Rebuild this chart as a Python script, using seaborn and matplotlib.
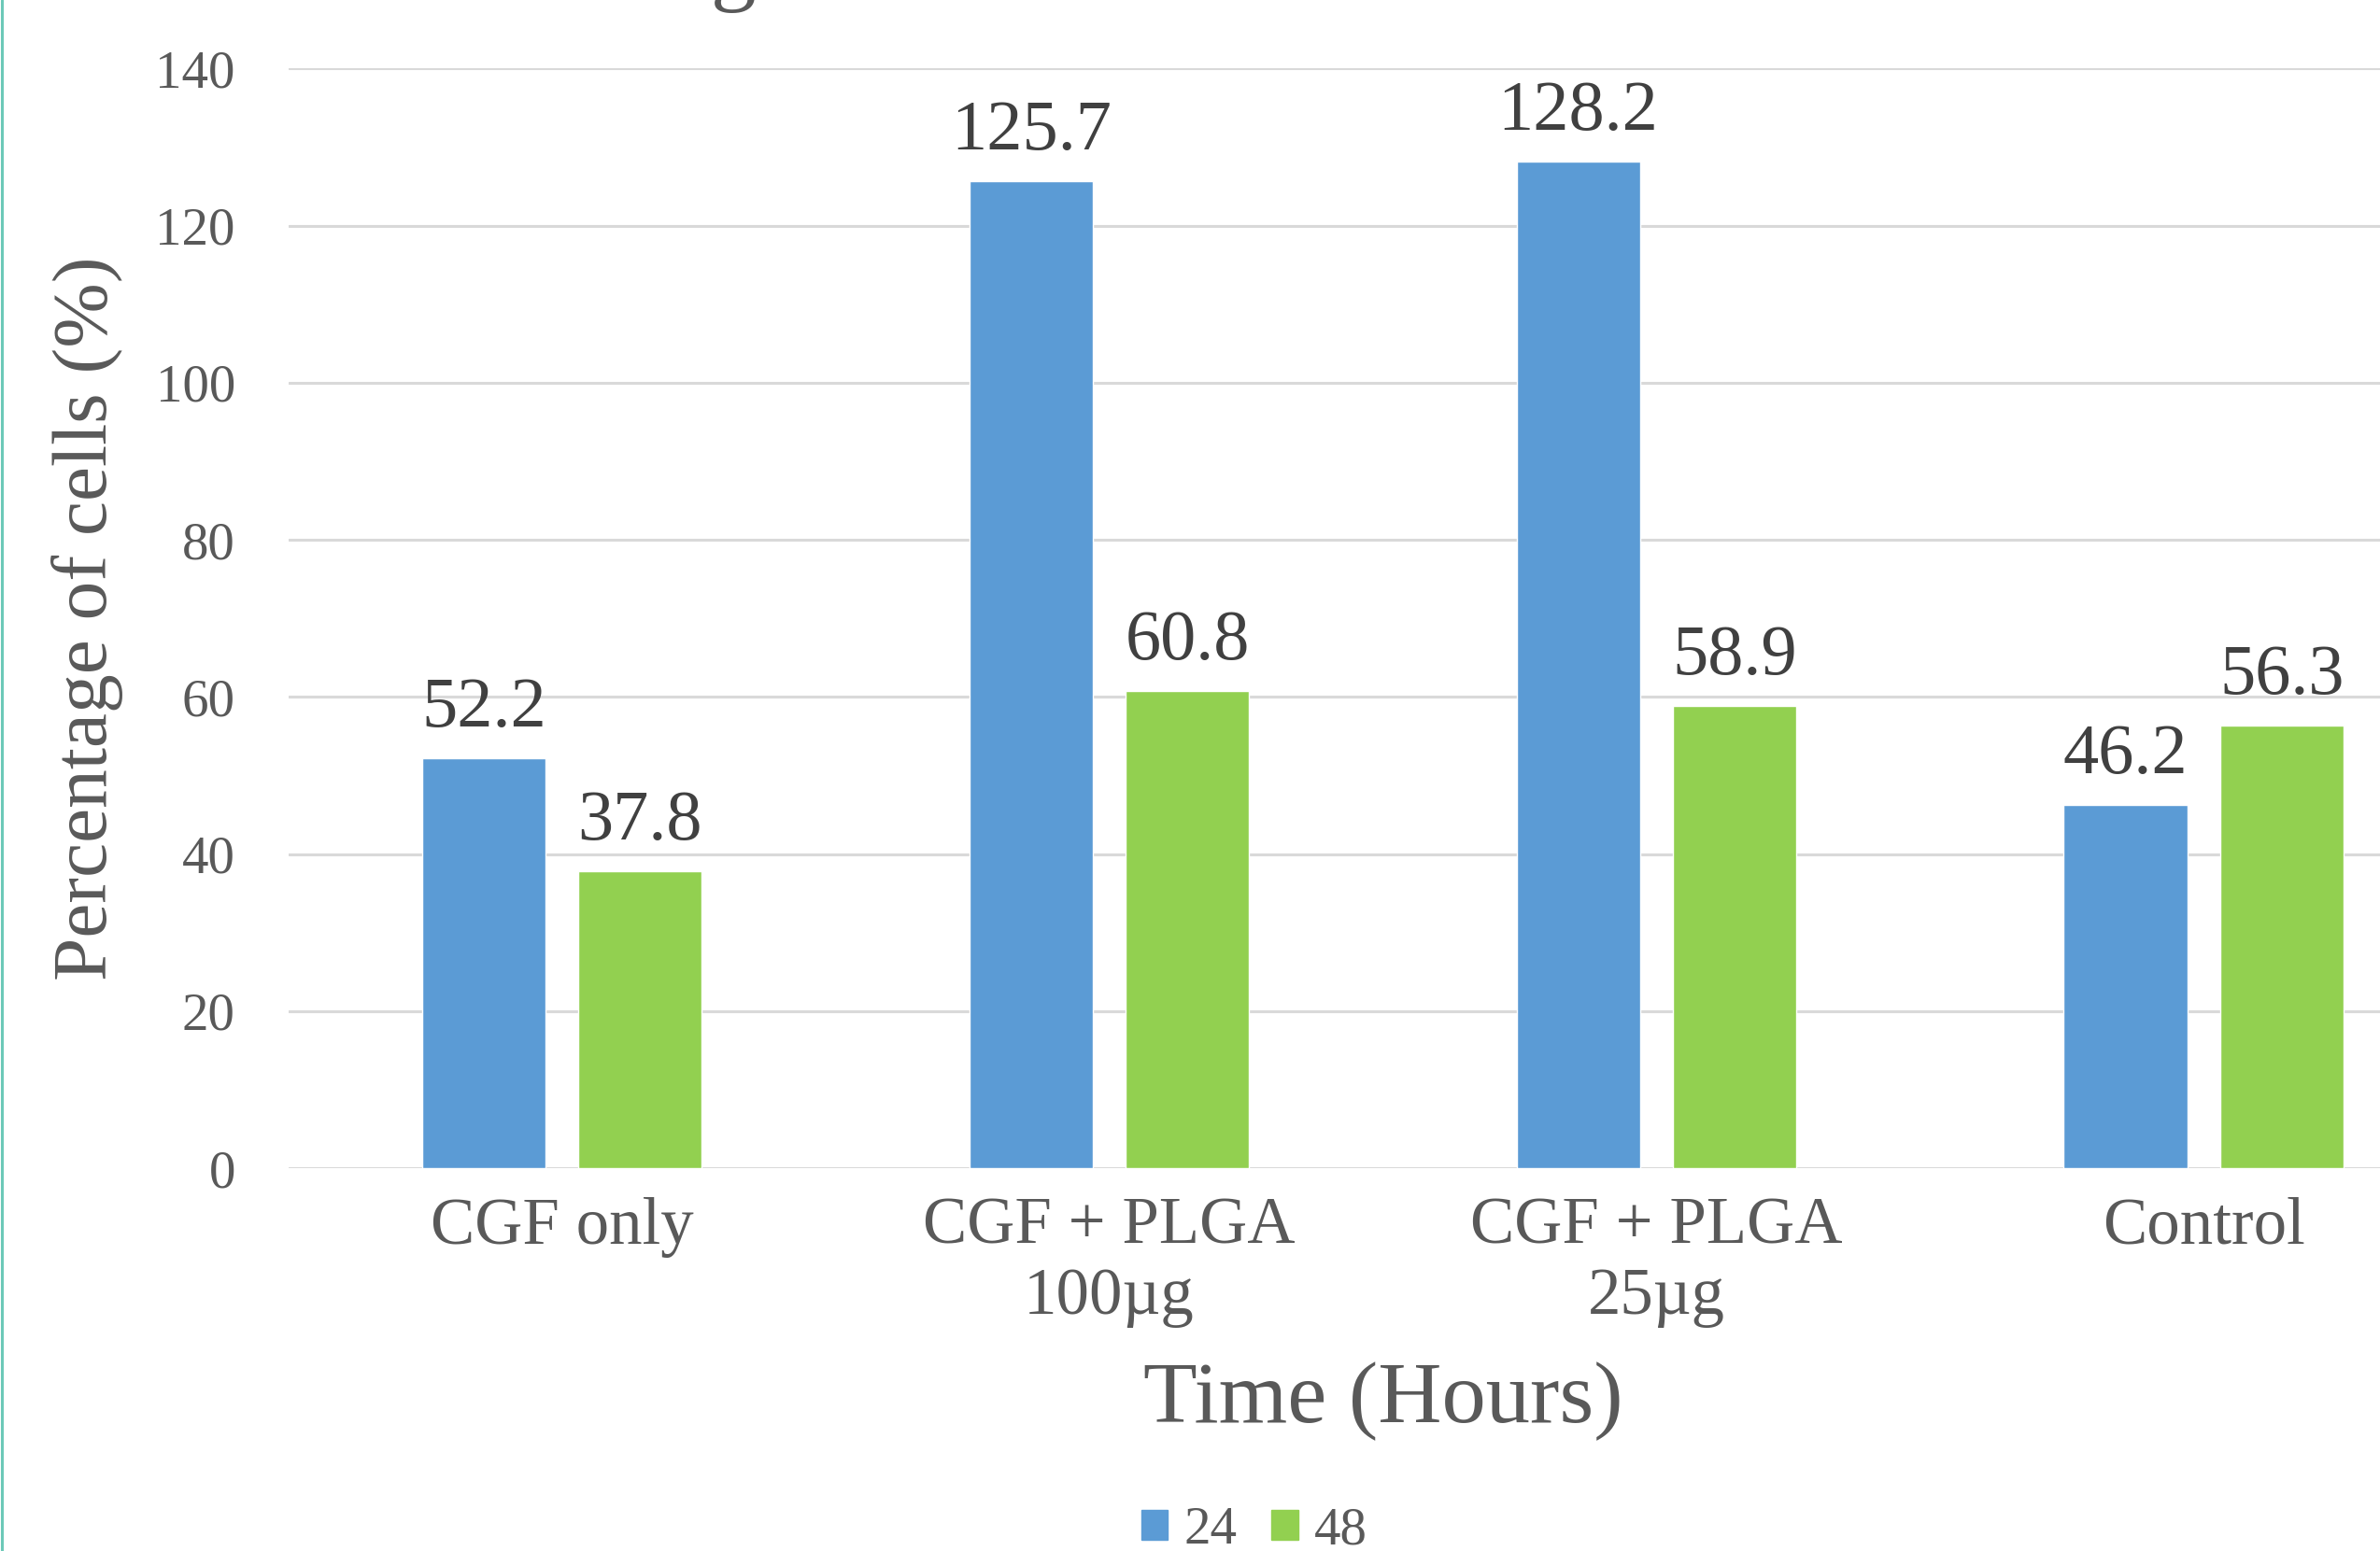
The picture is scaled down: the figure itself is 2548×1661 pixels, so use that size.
import seaborn as sns
import matplotlib.pyplot as plt
import pandas as pd
from matplotlib.lines import Line2D

# data
groups = ["CGF only", "CGF + PLGA\n100µg", "CGF + PLGA\n25µg", "Control"]
hours_24 = [52.2, 125.7, 128.2, 46.2]
hours_48 = [37.8, 60.8, 58.9, 56.3]
y_ticks = [0, 20, 40, 60, 80, 100, 120, 140]

blue = "#5B9BD5"
green = "#92D050"

df = pd.DataFrame({
    "Group": groups * 2,
    "Time": ["24"] * 4 + ["48"] * 4,
    "Value": hours_24 + hours_48,
})

sns.set_style("white")
plt.rcParams["font.family"] = ["Liberation Serif", "DejaVu Serif"]

fig = plt.figure(figsize=(25.48, 16.61), dpi=100)
ax = fig.add_axes([0.1212, 0.2468, 0.9196, 0.709])

sns.barplot(data=df, x="Group", y="Value", hue="Time", order=groups,
            palette=[blue, green], width=0.571, gap=0.21, ax=ax,
            saturation=1, legend=False, zorder=3)

for c in ax.containers:
    ax.bar_label(c, fmt="%.1f", padding=13, fontsize=55, color="#404040")

ax.set_ylim(0, 140)
ax.set_xlim(-0.5, 3.5)
ax.set_yticks(y_ticks)
ax.yaxis.grid(True, color="#d9d9d9", linewidth=2.2, zorder=0)
ax.set_axisbelow(True)
for s in ax.spines.values():
    s.set_visible(False)
ax.tick_params(axis="y", length=0, pad=41, labelsize=41, labelcolor="#595959")
ax.tick_params(axis="x", length=0, pad=22, labelsize=51, labelcolor="#595959")

ax.set_xlabel("Time (Hours)", fontsize=68, color="#595959")
ax.xaxis.label.set_va("center")
ax.xaxis.set_label_coords(0.5, -0.212)
ax.set_ylabel("Percentage of cells (%)", fontsize=60, color="#595959")
ax.yaxis.label.set_va("center")
ax.yaxis.set_label_coords(-0.092, 0.5)

# legend along the bottom edge
handles = [plt.Rectangle((0, 0), 1, 1, color=blue), plt.Rectangle((0, 0), 1, 1, color=green)]
fig.legend(handles, ["24", "48"], loc="center", bbox_to_anchor=(0.527, 0.013),
           ncol=2, frameon=False, fontsize=41, labelcolor="#595959",
           handlelength=0.5, handleheight=0.5, handletextpad=0.3,
           columnspacing=0.65, borderpad=0)

# cut-off chart title above the frame and teal border on the left
fig.text(785 / 2548, 1.004, "g", fontsize=70, color="#595959", ha="center", va="baseline")
fig.add_artist(Line2D([0.0006, 0.0006], [0, 1], color="#6cc9b8", linewidth=2.2))

fig.savefig("out.png", dpi=100)
